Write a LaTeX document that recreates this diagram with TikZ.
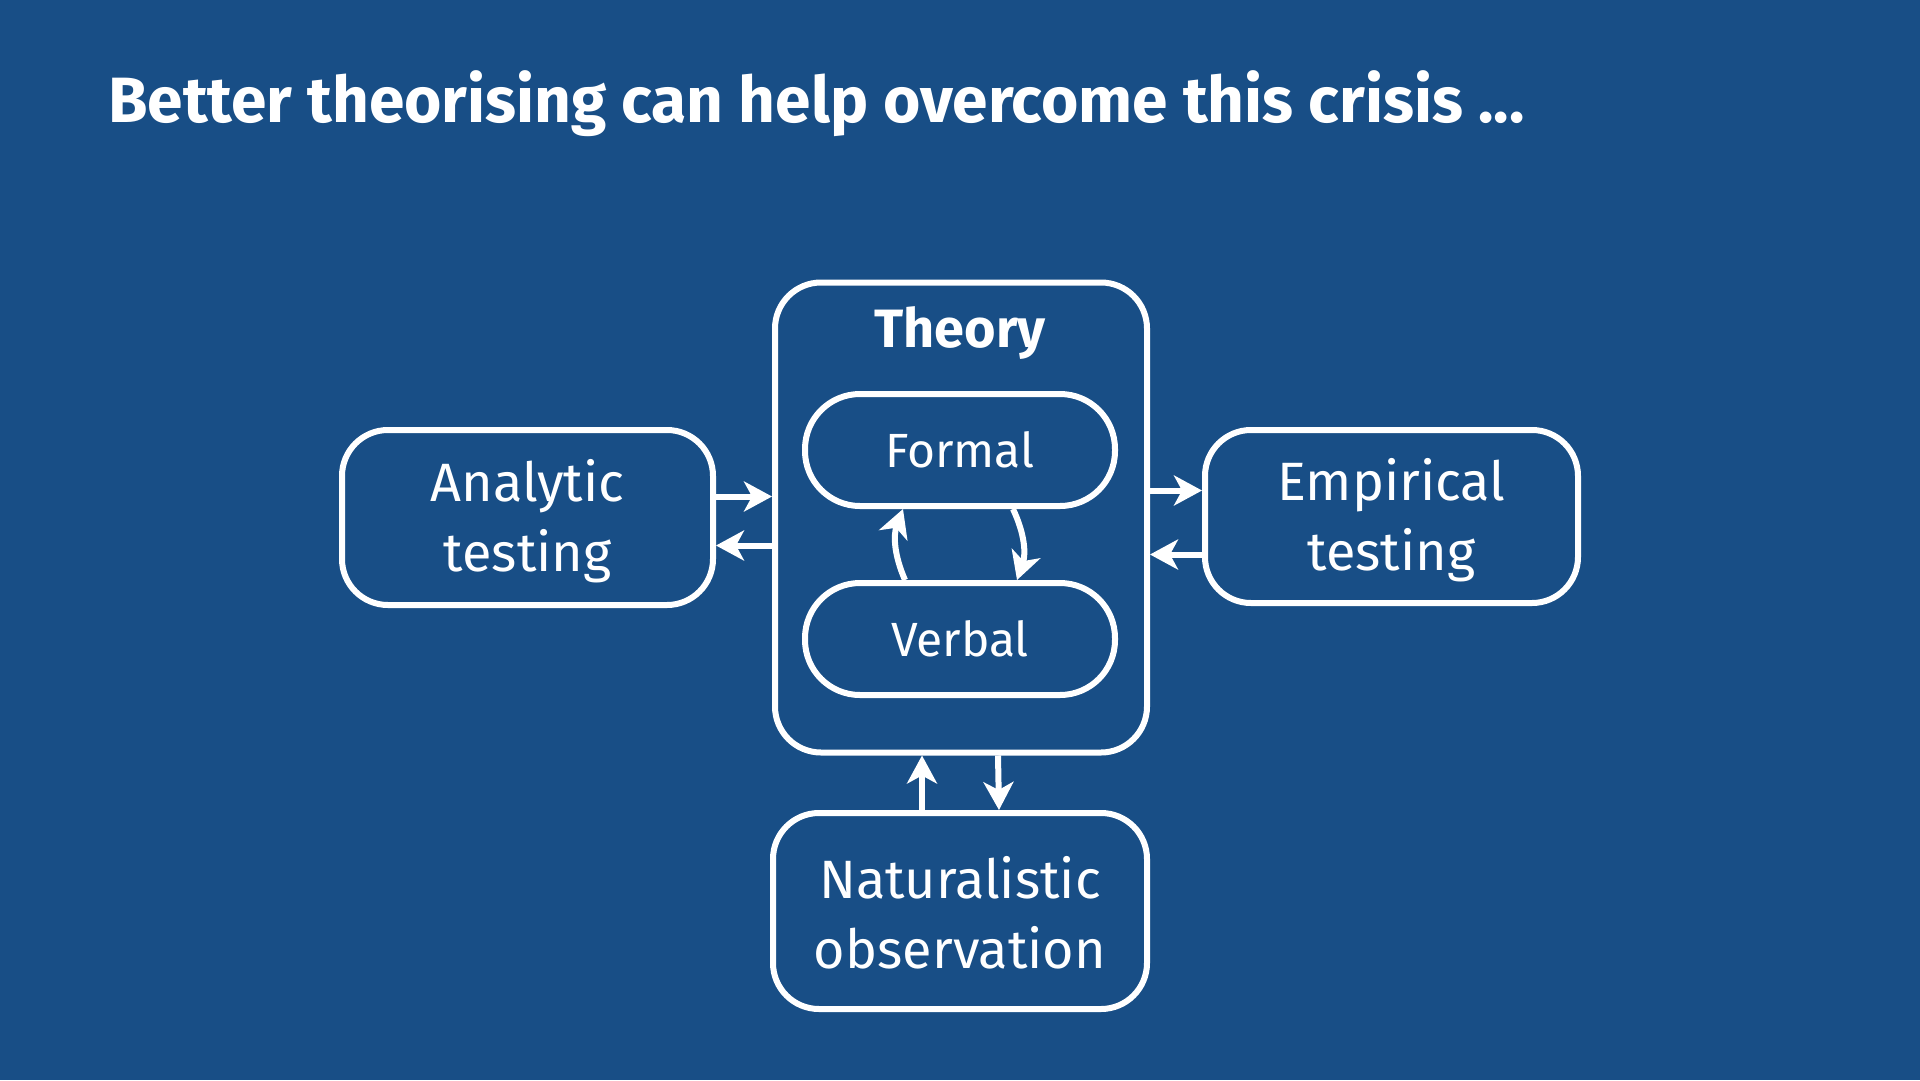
\documentclass[tikz,border=0pt]{standalone}
\usepackage{fontspec}
\setmainfont{Fira Sans}
\usetikzlibrary{arrows.meta}
\definecolor{bgblue}{HTML}{184E86}
\tikzset{
  box/.style={draw=white, line width=6pt, rounded corners=46pt, inner sep=0pt},
  boxtext/.style={align=center, text=white, font=\fontsize{54}{70}\selectfont, inner sep=0pt},
  pill/.style={draw=white, line width=6pt, rounded corners=55pt, text=white,
    font=\fontsize{48}{56}\selectfont, minimum width=310pt, minimum height=112pt, inner sep=0pt},
  arr/.style={draw=white, line width=6pt, -{Stealth[length=28pt,width=30pt,inset=8pt]}},
}
\begin{document}
\begin{tikzpicture}[x=1pt,y=-1pt]
\fill[bgblue] (0,0) rectangle (1920,1080);
\useasboundingbox (0,0) rectangle (1920,1080);
\node[anchor=base west, text=white, font=\fontsize{64}{70}\selectfont\bfseries, inner sep=0pt] (title) at (108,122) {Better theorising can help overcome this crisis ...};
\node[box, minimum width=372pt, minimum height=470pt] (T) at (961,517.5) {};
\node[anchor=base, text=white, font=\fontsize{54}{60}\selectfont\bfseries, inner sep=0pt] (Tl) at (960,347) {Theory};
\node[pill] (F) at (960,450) {Formal};
\node[pill] (V) at (960,639) {Verbal};
\node[box, minimum width=371pt, minimum height=175pt] (A) at (527.5,517.5) {};
\node[boxtext] (At) at ([yshift=-4pt]A.center) {Analytic\\testing};
\node[box, minimum width=373pt, minimum height=173pt] (E) at (1391.5,516.5) {};
\node[boxtext] (Et) at ([yshift=-4pt]E.center) {Empirical\\testing};
\node[box, minimum width=374pt, minimum height=196pt] (N) at (960,911) {};
\node[boxtext] (Nt) at ([yshift=-2pt]N.center) {Naturalistic\\observation};
\draw[arr] ([yshift=21pt]A.east) -- ([yshift=21pt]A.east -| T.west);
\draw[arr] ([yshift=-28pt]A.east -| T.west) -- ([yshift=-28pt]A.east);
\draw[arr] ([yshift=26pt]E.west -| T.east) -- ([yshift=26pt]E.west);
\draw[arr] ([yshift=-38pt]E.west) -- ([yshift=-38pt]E.west -| T.east);
\draw[arr] ([xshift=-38pt]N.north) -- ([xshift=-38pt]N.north |- T.south);
\draw[arr] ([xshift=37pt]T.south) -- ([xshift=39pt]N.north);
\draw[arr] ([xshift=-55pt]V.north) to[bend left=22] ([xshift=-57pt]F.south);
\draw[arr] ([xshift=53pt]F.south) to[bend left=22] ([xshift=57pt]V.north);
\end{tikzpicture}
\end{document}
